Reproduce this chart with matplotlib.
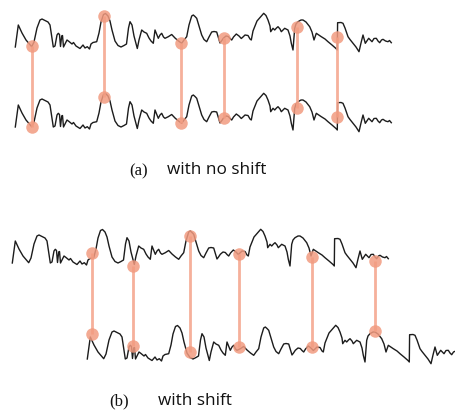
import numpy as np
import matplotlib
matplotlib.use("Agg")
import matplotlib.pyplot as plt

# ---- data: one waveform (pixel-like units, y downward) ----
wave_x = [15.3, 18.3, 22, 26, 31.7, 34, 37, 40, 42, 45, 48, 50, 52, 53.3, 55, 57, 58.3, 59.5,
          60.5, 61.7, 62.5, 63.5, 65, 67, 69, 72, 73.5, 76, 80, 83, 85, 87.3, 89.5, 91, 93,
          96.7, 99, 101, 103.5, 105.5, 108, 110, 112, 115, 118, 121, 124, 126.5, 128.5, 130,
          132, 134, 137.3, 139, 141.7, 144, 146.7, 149, 151, 153.3, 155, 157, 158.3, 160,
          161.7, 163.5, 165, 168.3, 171.7, 175, 178.5, 181.7, 184, 186.7, 189, 191.7, 193.3,
          195, 196.7, 199, 201.7, 204, 206.7, 209, 211.7, 214, 216.7, 218.5, 220, 221.5,
          223.3, 226, 228.3, 230, 231.7, 233.5, 236.3, 239, 241.3, 243.3, 245, 248, 250,
          251.3, 253, 254.7, 257, 260, 263.7, 266, 268, 270, 270.7, 273, 274.7, 276.5, 278,
          280, 281.3, 284.7, 288, 290, 291.3, 293, 294.2, 294.7, 296, 298, 301, 303, 306,
          309.7, 312, 314, 316.3, 318, 321.3, 325, 328, 332, 336, 337.3, 337.6, 341, 343,
          345, 348, 350, 353, 356, 359, 361, 363, 365.3, 368.7, 372, 374, 376.3, 378,
          379.7, 381.5, 383, 385.5, 388, 389.5, 391.3]
wave_y = [47, 25, 33, 40, 46.7, 42, 28, 20, 19, 20.5, 22, 25, 38, 47, 46, 35, 33.3, 34.5,
          46.5, 36, 35.5, 47, 44, 40, 41.5, 44, 42.5, 46, 48.5, 45, 48, 46.7, 49, 44, 42.5,
          41.7, 33, 22, 14.5, 13.5, 16, 21, 30, 41, 45.5, 47, 45.5, 44, 28, 21.7,
          25, 36, 48.5, 40, 30, 32, 33.3, 38, 41, 43.3, 30, 35, 38.3, 35,
          33.3, 37, 38.3, 36.7, 34.5, 38, 41, 43.3, 40, 36.7, 25, 16, 15,
          16.5, 18.3, 26, 35, 39.5, 41.7, 37, 32, 31.5, 32, 38, 43, 41,
          38.3, 36, 36.5, 38.5, 40, 37, 34, 36, 38.5, 36.7, 35, 35.5, 39,
          40, 31, 26.7, 21, 17.5, 13.3, 15.5, 20, 26, 31.7, 28.3, 30, 28, 26.7,
          29, 31.7, 28.3, 30, 36, 43.3, 50, 35, 28.3, 24, 21.7, 20, 20, 22,
          26.7, 32, 40, 33.3, 34.5, 36.7, 39, 41.7, 45, 48.5, 50, 22.7, 22.5, 23.3,
          28, 36.7, 39.5, 43.3, 47, 51.7, 43, 35, 43.3, 38.3, 41.7, 38.5, 38.3, 41,
          42.7, 40, 39.3, 41, 41.7, 40.5, 42.7]

# matched points, panel (a): no shift
match_a_x = [32, 104, 181, 224, 297, 337]
match_a_top = [46.5, 16, 43, 38, 27.5, 37]
match_a_bot = [127, 97, 123, 118, 108, 117]

# matched points, panel (b): with shift
match_b_x = [92, 133, 190, 239, 312, 375]
match_b_top = [253, 265.5, 236, 254, 257, 260.5]
match_b_bot = [334, 346, 351.5, 346.5, 346.5, 330.5]

labels = [("(a)", "with no shift"), ("(b)", "with shift")]

# ---- layout ----
W, H = 456, 415
fig = plt.figure(figsize=(W / 100, H / 100), dpi=100)
ax = fig.add_axes([0, 0, 1, 1])
ax.set_xlim(0, W)
ax.set_ylim(H, 0)
ax.axis("off")

wx = np.array(wave_x)
wy = np.array(wave_y)
curve_offsets = [(0, 0), (0, 80), (-3, 216), (72, 312)]
for dx, dy in curve_offsets:
    ax.plot(wx + dx, wy + dy, color="#1c1c1c", lw=1.0, solid_joinstyle="round", zorder=2)

line_c = "#F5A890"
dot_c = "#F29B80"
for mx, top, bot in [(match_a_x, match_a_top, match_a_bot),
                     (match_b_x, match_b_top, match_b_bot)]:
    for x, t, b in zip(mx, top, bot):
        ax.plot([x, x], [t, b], color=line_c, lw=2.0, alpha=0.9, zorder=3,
                solid_capstyle="butt")
    ax.plot(mx, top, "o", ms=9, color=dot_c, alpha=0.85, mec="none", zorder=4)
    ax.plot(mx, bot, "o", ms=9, color=dot_c, alpha=0.85, mec="none", zorder=4)

ax.text(139, 171, labels[0][0], family="Liberation Serif", fontsize=12,
        ha="center", va="center", color="#111")
ax.text(167, 170, labels[0][1], family="Open Sans", fontsize=12.3,
        ha="left", va="center", color="#111")
ax.text(119, 401, labels[1][0], family="Liberation Serif", fontsize=12,
        ha="center", va="center", color="#111")
ax.text(158, 401, labels[1][1], family="Open Sans", fontsize=12.3,
        ha="left", va="center", color="#111")

fig.savefig("out.png", dpi=100)
